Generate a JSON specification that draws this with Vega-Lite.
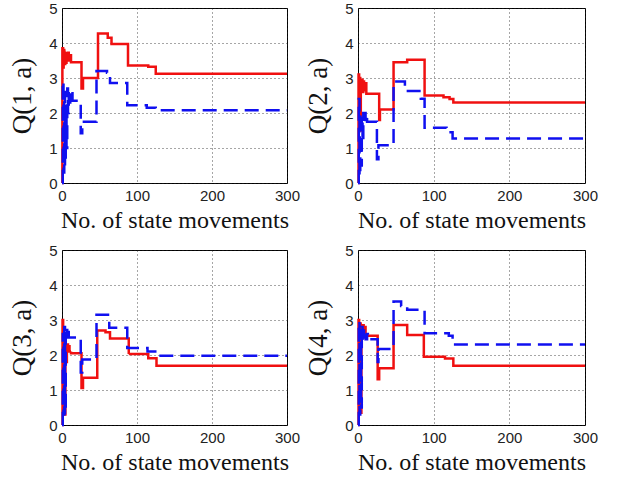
{
  "$schema": "https://vega.github.io/schema/vega-lite/v6.json",
  "padding": {"left": 8, "top": 0, "right": 0, "bottom": 0},
  "background": "white",
  "data": {"values": [
    {"p":1,"s":"r","x":0,"y":0},{"p":1,"s":"r","x":0.5,"y":3.85},{"p":1,"s":"r","x":1.5,"y":3.3},{"p":1,"s":"r","x":2.2,"y":3.8},{"p":1,"s":"r","x":3,"y":3.45},{"p":1,"s":"r","x":4,"y":3.75},{"p":1,"s":"r","x":5,"y":3.4},{"p":1,"s":"r","x":6,"y":3.7},{"p":1,"s":"r","x":7,"y":3.55},{"p":1,"s":"r","x":8,"y":3.72},{"p":1,"s":"r","x":9,"y":3.5},{"p":1,"s":"r","x":10,"y":3.65},{"p":1,"s":"r","x":12,"y":3.45},{"p":1,"s":"r","x":26,"y":2.7},{"p":1,"s":"r","x":28,"y":3.0},{"p":1,"s":"r","x":48,"y":4.27},{"p":1,"s":"r","x":61,"y":4.15},{"p":1,"s":"r","x":66,"y":3.97},{"p":1,"s":"r","x":88,"y":3.36},{"p":1,"s":"r","x":115,"y":3.32},{"p":1,"s":"r","x":125,"y":3.12},{"p":1,"s":"r","x":300,"y":3.12},
    {"p":1,"s":"b","x":0,"y":0},{"p":1,"s":"b","x":1,"y":2.9},{"p":1,"s":"b","x":2,"y":0.3},{"p":1,"s":"b","x":3,"y":2.6},{"p":1,"s":"b","x":4,"y":0.5},{"p":1,"s":"b","x":5,"y":2.2},{"p":1,"s":"b","x":6,"y":1.0},{"p":1,"s":"b","x":7,"y":2.7},{"p":1,"s":"b","x":8,"y":2.0},{"p":1,"s":"b","x":9,"y":2.6},{"p":1,"s":"b","x":10,"y":2.3},{"p":1,"s":"b","x":11,"y":2.65},{"p":1,"s":"b","x":14,"y":2.35},{"p":1,"s":"b","x":25,"y":1.42},{"p":1,"s":"b","x":27,"y":1.75},{"p":1,"s":"b","x":46,"y":3.2},{"p":1,"s":"b","x":60,"y":3.15},{"p":1,"s":"b","x":64,"y":2.86},{"p":1,"s":"b","x":87,"y":2.22},{"p":1,"s":"b","x":113,"y":2.15},{"p":1,"s":"b","x":125,"y":2.08},{"p":1,"s":"b","x":300,"y":2.08},
    {"p":2,"s":"r","x":0,"y":0},{"p":2,"s":"r","x":0.7,"y":3.1},{"p":2,"s":"r","x":1.5,"y":2.4},{"p":2,"s":"r","x":2.2,"y":3.0},{"p":2,"s":"r","x":3,"y":1.5},{"p":2,"s":"r","x":3.7,"y":2.9},{"p":2,"s":"r","x":4.5,"y":2.6},{"p":2,"s":"r","x":5.2,"y":2.95},{"p":2,"s":"r","x":6,"y":2.6},{"p":2,"s":"r","x":7,"y":2.9},{"p":2,"s":"r","x":8,"y":2.65},{"p":2,"s":"r","x":9,"y":2.85},{"p":2,"s":"r","x":11,"y":2.55},{"p":2,"s":"r","x":28,"y":1.8},{"p":2,"s":"r","x":29,"y":2.1},{"p":2,"s":"r","x":47,"y":3.45},{"p":2,"s":"r","x":65,"y":3.52},{"p":2,"s":"r","x":88,"y":2.5},{"p":2,"s":"r","x":113,"y":2.45},{"p":2,"s":"r","x":121,"y":2.4},{"p":2,"s":"r","x":126,"y":2.3},{"p":2,"s":"r","x":300,"y":2.3},
    {"p":2,"s":"b","x":0,"y":0},{"p":2,"s":"b","x":1,"y":2.4},{"p":2,"s":"b","x":2,"y":0.2},{"p":2,"s":"b","x":3,"y":2.0},{"p":2,"s":"b","x":4,"y":0.5},{"p":2,"s":"b","x":5,"y":1.9},{"p":2,"s":"b","x":6,"y":1.2},{"p":2,"s":"b","x":7,"y":2.0},{"p":2,"s":"b","x":8,"y":1.75},{"p":2,"s":"b","x":9,"y":2.0},{"p":2,"s":"b","x":10,"y":1.8},{"p":2,"s":"b","x":11,"y":1.95},{"p":2,"s":"b","x":12,"y":1.75},{"p":2,"s":"b","x":25,"y":0.68},{"p":2,"s":"b","x":27,"y":1.08},{"p":2,"s":"b","x":47,"y":2.9},{"p":2,"s":"b","x":62,"y":2.63},{"p":2,"s":"b","x":83,"y":2.41},{"p":2,"s":"b","x":88,"y":1.58},{"p":2,"s":"b","x":117,"y":1.45},{"p":2,"s":"b","x":125,"y":1.27},{"p":2,"s":"b","x":300,"y":1.27},
    {"p":3,"s":"r","x":0,"y":0},{"p":3,"s":"r","x":0.7,"y":3.0},{"p":3,"s":"r","x":1.5,"y":0.5},{"p":3,"s":"r","x":2.5,"y":2.6},{"p":3,"s":"r","x":3.5,"y":0.3},{"p":3,"s":"r","x":4.5,"y":2.3},{"p":3,"s":"r","x":5.5,"y":1.8},{"p":3,"s":"r","x":6.5,"y":2.3},{"p":3,"s":"r","x":8,"y":2.1},{"p":3,"s":"r","x":9,"y":2.25},{"p":3,"s":"r","x":10,"y":2.1},{"p":3,"s":"r","x":12,"y":2.05},{"p":3,"s":"r","x":26,"y":1.06},{"p":3,"s":"r","x":28,"y":1.35},{"p":3,"s":"r","x":47,"y":2.7},{"p":3,"s":"r","x":58,"y":2.65},{"p":3,"s":"r","x":64,"y":2.47},{"p":3,"s":"r","x":89,"y":2.03},{"p":3,"s":"r","x":115,"y":1.91},{"p":3,"s":"r","x":126,"y":1.69},{"p":3,"s":"r","x":300,"y":1.69},
    {"p":3,"s":"b","x":0,"y":0},{"p":3,"s":"b","x":1,"y":2.6},{"p":3,"s":"b","x":2,"y":0.3},{"p":3,"s":"b","x":3,"y":2.8},{"p":3,"s":"b","x":4,"y":0.3},{"p":3,"s":"b","x":5,"y":2.6},{"p":3,"s":"b","x":6,"y":2.8},{"p":3,"s":"b","x":7,"y":2.5},{"p":3,"s":"b","x":8,"y":2.75},{"p":3,"s":"b","x":9,"y":2.5},{"p":3,"s":"b","x":25,"y":1.5},{"p":3,"s":"b","x":27,"y":1.87},{"p":3,"s":"b","x":46,"y":3.15},{"p":3,"s":"b","x":63,"y":2.78},{"p":3,"s":"b","x":87,"y":2.2},{"p":3,"s":"b","x":114,"y":2.1},{"p":3,"s":"b","x":126,"y":1.98},{"p":3,"s":"b","x":300,"y":1.98},
    {"p":4,"s":"r","x":0,"y":0},{"p":4,"s":"r","x":0.7,"y":3.0},{"p":4,"s":"r","x":1.5,"y":0.4},{"p":4,"s":"r","x":2.5,"y":2.9},{"p":4,"s":"r","x":3.5,"y":0.35},{"p":4,"s":"r","x":4.5,"y":2.7},{"p":4,"s":"r","x":5.5,"y":2.5},{"p":4,"s":"r","x":6.5,"y":2.85},{"p":4,"s":"r","x":7.5,"y":2.6},{"p":4,"s":"r","x":8.5,"y":2.8},{"p":4,"s":"r","x":10,"y":2.55},{"p":4,"s":"r","x":26,"y":1.31},{"p":4,"s":"r","x":28,"y":1.62},{"p":4,"s":"r","x":47,"y":2.86},{"p":4,"s":"r","x":65,"y":2.57},{"p":4,"s":"r","x":87,"y":1.95},{"p":4,"s":"r","x":115,"y":1.9},{"p":4,"s":"r","x":126,"y":1.69},{"p":4,"s":"r","x":300,"y":1.69},
    {"p":4,"s":"b","x":0,"y":0},{"p":4,"s":"b","x":1,"y":2.95},{"p":4,"s":"b","x":2,"y":0.3},{"p":4,"s":"b","x":3,"y":2.7},{"p":4,"s":"b","x":4,"y":0.5},{"p":4,"s":"b","x":5,"y":2.8},{"p":4,"s":"b","x":6,"y":2.4},{"p":4,"s":"b","x":7,"y":2.7},{"p":4,"s":"b","x":8,"y":2.5},{"p":4,"s":"b","x":9,"y":2.65},{"p":4,"s":"b","x":10,"y":2.45},{"p":4,"s":"b","x":12,"y":2.6},{"p":4,"s":"b","x":13,"y":2.45},{"p":4,"s":"b","x":26,"y":1.8},{"p":4,"s":"b","x":27,"y":2.17},{"p":4,"s":"b","x":47,"y":3.53},{"p":4,"s":"b","x":57,"y":3.4},{"p":4,"s":"b","x":65,"y":3.29},{"p":4,"s":"b","x":88,"y":2.62},{"p":4,"s":"b","x":120,"y":2.55},{"p":4,"s":"b","x":125,"y":2.3},{"p":4,"s":"b","x":300,"y":2.3}
  ]},
  "columns": 2,
  "spacing": {"row": 9, "column": 3},
  "concat": [
    {"width": 225, "height": 175, "transform": [{"filter": "datum.p == 1"}], "mark": {"type": "line", "interpolate": "step-after", "strokeWidth": 2.5},
     "encoding": {"x": {"field": "x", "type": "quantitative", "title": "No. of state movements", "scale": {"domain": [0,300]}, "axis": {"values": [0,100,200,300]}}, "y": {"field": "y", "type": "quantitative", "title": "Q(1, a)", "scale": {"domain": [0,5]}, "axis": {"values": [0,1,2,3,4,5]}}, "color": {"field": "s", "type": "nominal", "legend": null, "scale": {"domain": ["r","b"], "range": ["#f01010","#1010f0"]}}, "strokeDash": {"field": "s", "type": "nominal", "legend": null, "scale": {"domain": ["r","b"], "range": [[1,0],[14,7]]}}}},
    {"width": 227, "height": 175, "transform": [{"filter": "datum.p == 2"}], "mark": {"type": "line", "interpolate": "step-after", "strokeWidth": 2.5},
     "encoding": {"x": {"field": "x", "type": "quantitative", "title": "No. of state movements", "scale": {"domain": [0,300]}, "axis": {"values": [0,100,200,300]}}, "y": {"field": "y", "type": "quantitative", "title": "Q(2, a)", "scale": {"domain": [0,5]}, "axis": {"values": [0,1,2,3,4,5]}}, "color": {"field": "s", "type": "nominal", "legend": null, "scale": {"domain": ["r","b"], "range": ["#f01010","#1010f0"]}}, "strokeDash": {"field": "s", "type": "nominal", "legend": null, "scale": {"domain": ["r","b"], "range": [[1,0],[14,7]]}}}},
    {"width": 225, "height": 175, "transform": [{"filter": "datum.p == 3"}], "mark": {"type": "line", "interpolate": "step-after", "strokeWidth": 2.5},
     "encoding": {"x": {"field": "x", "type": "quantitative", "title": "No. of state movements", "scale": {"domain": [0,300]}, "axis": {"values": [0,100,200,300]}}, "y": {"field": "y", "type": "quantitative", "title": "Q(3, a)", "scale": {"domain": [0,5]}, "axis": {"values": [0,1,2,3,4,5]}}, "color": {"field": "s", "type": "nominal", "legend": null, "scale": {"domain": ["r","b"], "range": ["#f01010","#1010f0"]}}, "strokeDash": {"field": "s", "type": "nominal", "legend": null, "scale": {"domain": ["r","b"], "range": [[1,0],[14,7]]}}}},
    {"width": 227, "height": 175, "transform": [{"filter": "datum.p == 4"}], "mark": {"type": "line", "interpolate": "step-after", "strokeWidth": 2.5},
     "encoding": {"x": {"field": "x", "type": "quantitative", "title": "No. of state movements", "scale": {"domain": [0,300]}, "axis": {"values": [0,100,200,300]}}, "y": {"field": "y", "type": "quantitative", "title": "Q(4, a)", "scale": {"domain": [0,5]}, "axis": {"values": [0,1,2,3,4,5]}}, "color": {"field": "s", "type": "nominal", "legend": null, "scale": {"domain": ["r","b"], "range": ["#f01010","#1010f0"]}}, "strokeDash": {"field": "s", "type": "nominal", "legend": null, "scale": {"domain": ["r","b"], "range": [[1,0],[14,7]]}}}}
  ],
  "config": {
    "view": {"stroke": "black", "strokeWidth": 1},
    "axis": {
      "domain": false, "ticks": false, "labelFlush": false,
      "grid": true, "gridColor": "#222", "gridDash": [1,3], "gridWidth": 1, "gridOpacity": 0.8,
      "labelFont": "Liberation Sans", "labelFontSize": 15, "labelColor": "#222", "labelPadding": 5,
      "titleFont": "Liberation Serif", "titleFontWeight": "normal", "titleColor": "#111"
    },
    "axisX": {"titleFont": "Liberation Serif", "titleFontWeight": "normal", "titleFontSize": 24, "titlePadding": 5},
    "axisY": {"titleFont": "Liberation Serif", "titleFontWeight": "normal", "titleFontSize": 27, "titlePadding": 12}
  }
}
